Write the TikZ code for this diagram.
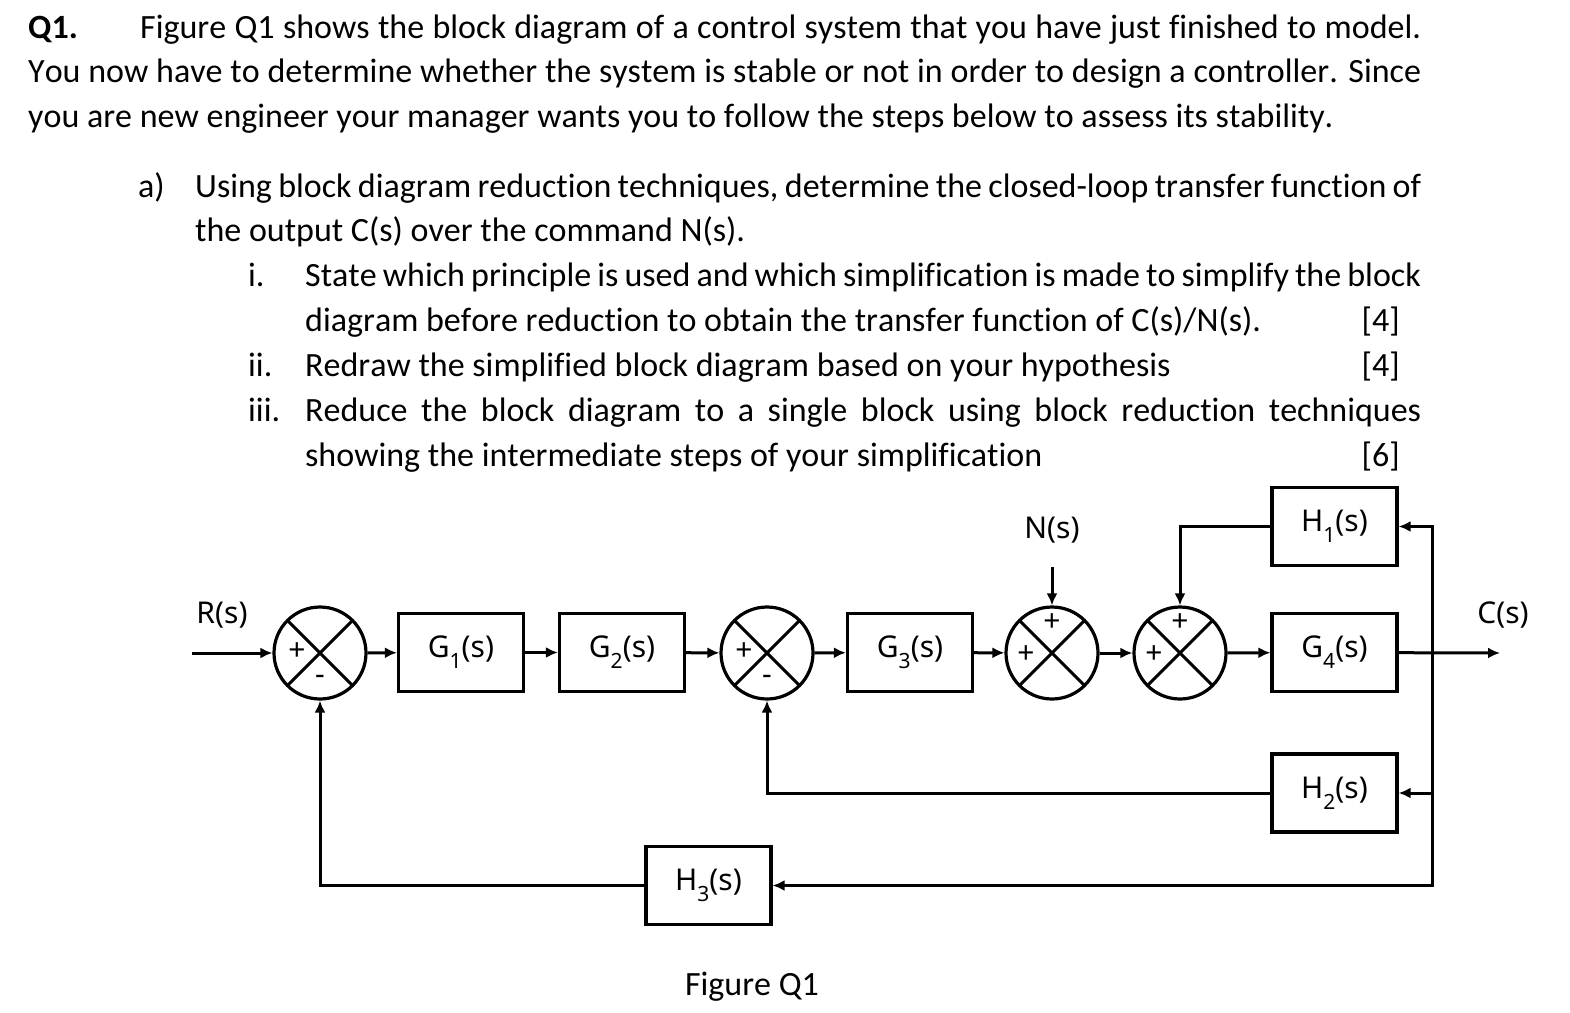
\documentclass[tikz,border=0pt]{standalone}
\usepackage{fontspec}
\setmainfont{Carlito}[Ligatures=NoCommon,Kerning=Off]
\newfontfamily\lblfont{Noto Sans}
\usetikzlibrary{arrows.meta}
\newcommand\lowsub[1]{\raisebox{-0.36em}{\fontsize{21}{21}\selectfont #1}}
\tikzset{
  txt/.style={anchor=base west, inner sep=0pt, font=\fontsize{34}{40}\selectfont},
  txtr/.style={anchor=base east, inner sep=0pt, font=\fontsize{34}{40}\selectfont},
  blk/.style={draw, line width=3.2pt, minimum width=125pt, minimum height=78pt, inner sep=0pt, font=\lblfont\fontsize{30}{30}\selectfont},
  sumj/.style={draw, circle, line width=3.2pt, minimum size=92pt, inner sep=0pt,
    path picture={\draw[line width=3pt] (path picture bounding box.north west) -- (path picture bounding box.south east)
      (path picture bounding box.north east) -- (path picture bounding box.south west);}},
  sgn/.style={inner sep=0pt, font=\lblfont\fontsize{30}{30}\selectfont},
  lbl/.style={inner sep=0pt, font=\lblfont\fontsize{30}{30}\selectfont},
  arr/.style={line width=3pt, -{Latex[length=12pt,width=11pt]}},
  ln/.style={line width=3pt}
}
\begin{document}
\begin{tikzpicture}[x=1pt,y=-1pt]
\useasboundingbox (0,0) rectangle (1570,1012);
% text
\node[txt] (q) at (28,38) {\textbf{Q1.}};
\node[txt] (l1) at (140,38) {\makebox[1281pt][s]{Figure Q1 shows the block diagram of a control system that you have just finished to model.}};
\node[txt] (l2) at (28,82) {\makebox[1393pt][s]{You now have to determine whether the system is stable or not in order to design a controller. Since}};
\node[txt] (l3) at (28,127) {you are new engineer your manager wants you to follow the steps below to assess its stability.};
\node[txt] (a) at (138,197) {a)};
\node[txt] (l4) at (195,197) {\makebox[1226pt][s]{Using block diagram reduction techniques, determine the closed-loop transfer function of}};
\node[txt] (l5) at (195,241) {the output C(s) over the command N(s).};
\node[txt] (i1) at (248,286) {i.};
\node[txt] (l6) at (305,286) {\makebox[1116pt][s]{State which principle is used and which simplification is made to simplify the block}};
\node[txt] (l7) at (305,331) {diagram before reduction to obtain the transfer function of C(s)/N(s).};
\node[txtr] (m1) at (1400,331) {[4]};
\node[txt] (i2) at (248,376) {ii.};
\node[txt] (l8) at (305,376) {Redraw the simplified block diagram based on your hypothesis};
\node[txtr] (m2) at (1400,376) {[4]};
\node[txt] (i3) at (248,421) {iii.};
\node[txt] (l9) at (305,421) {\makebox[1116pt][s]{Reduce the block diagram to a single block using block reduction techniques}};
\node[txt] (l10) at (305,466) {showing the intermediate steps of your simplification};
\node[txtr] (m3) at (1400,466) {[6]};
% diagram
\node[sumj] (s1) at (320,653) {};
\node[blk] (g1) at (461,652.5) {G\lowsub{1}(s)};
\node[blk] (g2) at (622,652.5) {G\lowsub{2}(s)};
\node[sumj] (s2) at (767,653) {};
\node[blk] (g3) at (910,652.5) {G\lowsub{3}(s)};
\node[sumj] (s3) at (1052,653) {};
\node[sumj] (s4) at (1180,653) {};
\node[blk] (g4) at (1334.5,652.5) {G\lowsub{4}(s)};
\node[blk] (h1) at (1334.5,526.5) {H\lowsub{1}(s)};
\node[blk] (h2) at (1334.5,793) {H\lowsub{2}(s)};
\node[blk] (h3) at (708.5,885.5) {H\lowsub{3}(s)};
\node[sgn] (p1) at (297,652) {+};
\node[sgn] (n1) at (320,680) {-};
\node[sgn] (p2) at (744,652) {+};
\node[sgn] (n2) at (767,680) {-};
\node[sgn] (p3a) at (1052,623) {+};
\node[sgn] (p3b) at (1026,655) {+};
\node[sgn] (p4a) at (1180,623) {+};
\node[sgn] (p4b) at (1154,655) {+};
\node[lbl] (rl) at (222,615) {R(s)};
\node[lbl] (cl) at (1503,615) {C(s)};
\node[lbl] (nl) at (1052,530) {N(s)};
\coordinate (rin) at (192,653);
\coordinate (cout) at (1500,653);
\coordinate (br) at (1432,653);
\coordinate (nin) at (1052,567);
\draw[arr] (rin) -- (s1);
\draw[arr] (s1) -- (g1);
\draw[arr] (g1) -- (g2);
\draw[arr] (g2) -- (s2);
\draw[arr] (s2) -- (g3);
\draw[arr] (g3) -- (s3);
\draw[arr] (s3) -- (s4);
\draw[arr] (s4) -- (g4);
\draw[arr] (g4) -- (cout);
\draw[arr] (nin) -- (s3);
\draw[arr] (br) |- (h1);
\draw[arr] (br) |- (h2);
\draw[arr] (br) |- (h3);
\draw[arr] (h1) -| (s4);
\draw[arr] (h2) -| (s2);
\draw[arr] (h3) -| (s1);
\node[txt, anchor=base] (fig) at (752,995) {Figure Q1};
\end{tikzpicture}
\end{document}
